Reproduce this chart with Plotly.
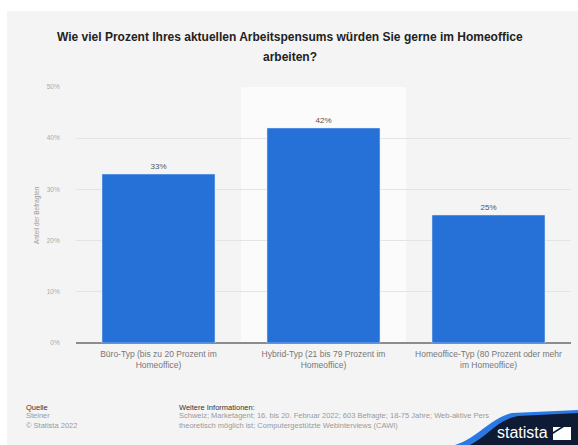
import plotly.graph_objects as go

categories = [
    "Büro-Typ (bis zu 20 Prozent im<br>Homeoffice)",
    "Hybrid-Typ (21 bis 79 Prozent im<br>Homeoffice)",
    "Homeoffice-Typ (80 Prozent oder mehr<br>im Homeoffice)",
]
values = [33, 42, 25]
value_labels = ["33%", "42%", "25%"]
y_ticks = [0, 10, 20, 30, 40, 50]
y_tick_labels = ["0%", "10%", "20%", "30%", "40%", "50%"]

W, H = 578, 445
L, R, T, B = 76, 571, 87, 343


def fx(p):
    return (p - L) / (R - L)


def fy(p):
    return (B - p) / (B - T)


fig = go.Figure()
fig.add_trace(go.Bar(
    x=[0, 1, 2], y=values, marker_color="#2571d8", width=0.685,
    text=value_labels, textposition="outside",
    textfont=dict(size=8, color="#555555", family="Liberation Sans"),
    cliponaxis=False, hoverinfo="skip",
))

shapes = [
    dict(type="rect", xref="paper", yref="paper", x0=fx(0), x1=fx(W), y0=fy(11), y1=fy(0),
         fillcolor="white", line_width=0, layer="below"),
    dict(type="rect", xref="paper", yref="paper", x0=fx(0), x1=fx(7), y0=fy(H), y1=fy(0),
         fillcolor="white", line_width=0, layer="below"),
    dict(type="rect", xref="x", yref="paper", x0=0.5, x1=1.5, y0=0, y1=1,
         fillcolor="#fbfbfb", line_width=0, layer="below"),
    # logo: blue swoosh
    dict(type="path", xref="paper", yref="paper",
         path=(f"M {fx(455)},{fy(H)} C {fx(478)},{fy(438)} {fx(490)},{fy(418)} {fx(512)},{fy(413)} "
               f"L {fx(W)},{fy(410)} L {fx(W)},{fy(H)} Z"),
         fillcolor="#2a78e4", line_width=0, layer="above"),
    # logo: dark body
    dict(type="path", xref="paper", yref="paper",
         path=(f"M {fx(470)},{fy(H)} C {fx(488)},{fy(436)} {fx(497)},{fy(420)} {fx(518)},{fy(416)} "
               f"L {fx(W)},{fy(413)} L {fx(W)},{fy(H)} Z"),
         fillcolor="#0f1b35", line_width=0, layer="above"),
    # logo icon
    dict(type="path", xref="paper", yref="paper",
         path=(f"M {fx(553)},{fy(440)} L {fx(553)},{fy(434)} L {fx(564)},{fy(427)} L {fx(571)},{fy(427)} "
               f"L {fx(571)},{fy(440)} Z"),
         fillcolor="white", line_width=0, layer="above"),
    dict(type="path", xref="paper", yref="paper",
         path=(f"M {fx(553)},{fy(432)} L {fx(553)},{fy(427)} L {fx(561)},{fy(427)} Z"),
         fillcolor="white", line_width=0, layer="above"),
]

foot_font = dict(size=7.5, color="#9a9a9a", family="Liberation Sans")
title_font = dict(size=12, color="#222222", family="Liberation Sans")
annotations = [
    dict(text="<b>Wie viel Prozent Ihres aktuellen Arbeitspensums würden Sie gerne im Homeoffice</b>",
         xref="paper", yref="paper", x=fx(290), y=fy(37), xanchor="center", yanchor="middle",
         showarrow=False, font=title_font),
    dict(text="<b>arbeiten?</b>",
         xref="paper", yref="paper", x=fx(290), y=fy(57), xanchor="center", yanchor="middle",
         showarrow=False, font=title_font),
    dict(text="Anteil der Befragten", xref="paper", yref="paper", x=fx(37), y=0.5,
         textangle=-90, showarrow=False, xanchor="center", yanchor="middle",
         font=dict(size=6.5, color="#9a9a9a", family="Liberation Sans")),
    dict(text="Quelle", xref="paper", yref="paper", x=fx(24), y=fy(401), xanchor="left", yanchor="top",
         showarrow=False, font=dict(size=7.5, color="#333333", family="Liberation Sans")),
    dict(text="Steiner<br>© Statista 2022", xref="paper", yref="paper", x=fx(24), y=fy(409),
         xanchor="left", yanchor="top", align="left", showarrow=False, font=foot_font),
    dict(text="Weitere Informationen:", xref="paper", yref="paper", x=fx(177), y=fy(401),
         xanchor="left", yanchor="top", showarrow=False,
         font=dict(size=7.5, color="#333333", family="Liberation Sans")),
    dict(text=("Schweiz; Marketagent; 16. bis 20. Februar 2022; 603 Befragte; 18-75 Jahre; Web-aktive Pers<br>"
               "theoretisch möglich ist; Computergestützte Webinterviews (CAWI)"),
         xref="paper", yref="paper", x=fx(177), y=fy(409), xanchor="left", yanchor="top",
         align="left", showarrow=False, font=foot_font),
    dict(text="statista", xref="paper", yref="paper", x=fx(522), y=fy(432),
         xanchor="center", yanchor="middle", showarrow=False,
         font=dict(size=16, color="white", family="Liberation Sans Narrow, Liberation Sans")),
]

fig.update_layout(
    width=W, height=H,
    margin=dict(l=L, r=W - R, t=T, b=H - B, pad=0),
    paper_bgcolor="#f4f4f4", plot_bgcolor="#f4f4f4",
    showlegend=False, bargap=0.3,
    shapes=shapes, annotations=annotations,
    xaxis=dict(tickmode="array", tickvals=[0, 1, 2], ticktext=categories,
               range=[-0.5, 2.5], showgrid=False, ticks="outside", ticklen=3,
               tickcolor="rgba(0,0,0,0)", zeroline=False,
               tickfont=dict(size=8.5, color="#777777", family="Liberation Sans"),
               showline=False, fixedrange=True),
    yaxis=dict(range=[0, 50], tickmode="array", tickvals=y_ticks, ticktext=y_tick_labels,
               showgrid=True, gridcolor="#e4e4e4", gridwidth=1, zeroline=True,
               zerolinecolor="#8c8c8c", zerolinewidth=1.5,
               tickfont=dict(size=6.5, color="#aaaaaa", family="Liberation Sans"),
               ticks="outside", ticklen=14, tickcolor="rgba(0,0,0,0)", showline=False),
)

fig.write_html("out.html", config={"displayModeBar": False},
               post_script="document.body.style.margin='0';document.body.style.padding='0';")
